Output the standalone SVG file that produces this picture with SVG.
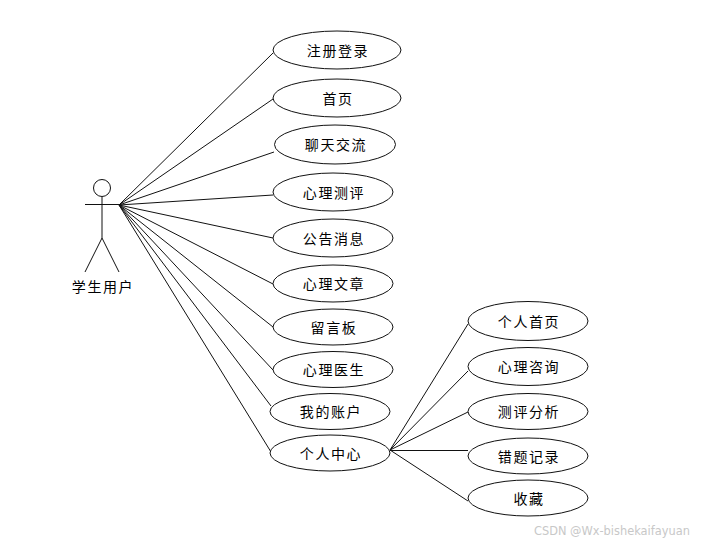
<svg xmlns="http://www.w3.org/2000/svg" width="704" height="543" viewBox="0 0 704 543">
<style>
.u{fill:#fff;stroke:#111;stroke-width:1}
.c line,.a line,.a circle{stroke:#111;stroke-width:1;fill:#fff}
text{font-family:"Noto Sans CJK SC","DejaVu Sans",sans-serif;font-size:14px;text-anchor:middle;fill:#000;letter-spacing:1.6px}
.w{font-family:"DejaVu Sans",sans-serif;font-size:11.400px;fill:#c8c8c8;letter-spacing:0;text-anchor:start}
</style>
<rect width="704" height="543" fill="#fff"/>
<g id="connectors" class="c">
<line x1="119" y1="205" x2="273" y2="53"/>
<line x1="119" y1="205" x2="273" y2="99"/>
<line x1="119" y1="205" x2="274" y2="152"/>
<line x1="119" y1="205" x2="273" y2="195"/>
<line x1="119" y1="205" x2="273" y2="238"/>
<line x1="119" y1="205" x2="273" y2="284"/>
<line x1="119" y1="205" x2="273" y2="327"/>
<line x1="119" y1="205" x2="273" y2="370"/>
<line x1="119" y1="205" x2="271" y2="406"/>
<line x1="119" y1="205" x2="271" y2="452"/>
<line x1="390" y1="450" x2="468" y2="324"/>
<line x1="390" y1="450" x2="468" y2="371"/>
<line x1="390" y1="450" x2="468" y2="412"/>
<line x1="390" y1="450.500" x2="468" y2="450.500"/>
<line x1="390" y1="450" x2="468" y2="501"/>
</g>
<g id="actor" class="a">
<circle cx="102" cy="188" r="8.500"/>
<line x1="102" y1="197" x2="102" y2="238"/>
<line x1="85" y1="204.500" x2="119" y2="204.500"/>
<line x1="102" y1="238" x2="85" y2="272"/>
<line x1="102" y1="238" x2="119" y2="272"/>
<text x="103" y="292">学生用户</text>
</g>
<g id="n1"><ellipse class="u" cx="337" cy="50" rx="64" ry="19"/><text x="338" y="55.500">注册登录</text></g>
<g id="n2"><ellipse class="u" cx="337" cy="98" rx="64" ry="19"/><text x="338" y="103.500">首页</text></g>
<g id="n3"><ellipse class="u" cx="335" cy="144.500" rx="60.500" ry="19.500"/><text x="336" y="149.500">聊天交流</text></g>
<g id="n4"><ellipse class="u" cx="333" cy="192" rx="60" ry="19"/><text x="334" y="197.500">心理测评</text></g>
<g id="n5"><ellipse class="u" cx="333" cy="238" rx="60" ry="19"/><text x="334" y="243.500">公告消息</text></g>
<g id="n6"><ellipse class="u" cx="333" cy="283.500" rx="60" ry="18.500"/><text x="334" y="288.500">心理文章</text></g>
<g id="n7"><ellipse class="u" cx="333" cy="327" rx="60" ry="18"/><text x="334" y="332.500">留言板</text></g>
<g id="n8"><ellipse class="u" cx="333" cy="369.500" rx="60" ry="18"/><text x="334" y="374.500">心理医生</text></g>
<g id="n9"><ellipse class="u" cx="330" cy="411.500" rx="60" ry="18"/><text x="331" y="416.500">我的账户</text></g>
<g id="n10"><ellipse class="u" cx="330" cy="453" rx="60" ry="18"/><text x="331" y="458.500">个人中心</text></g>
<g id="n11"><ellipse class="u" cx="528" cy="321" rx="60" ry="19.500"/><text x="529" y="326.500">个人首页</text></g>
<g id="n12"><ellipse class="u" cx="528" cy="366.500" rx="60" ry="19"/><text x="529" y="371.500">心理咨询</text></g>
<g id="n13"><ellipse class="u" cx="528" cy="411.500" rx="60" ry="18"/><text x="529" y="416.500">测评分析</text></g>
<g id="n14"><ellipse class="u" cx="528" cy="456" rx="60" ry="18"/><text x="529" y="461.500">错题记录</text></g>
<g id="n15"><ellipse class="u" cx="528" cy="498" rx="60" ry="18"/><text x="529" y="503.500">收藏</text></g>
<text class="w" x="534" y="534.500">CSDN @Wx-bishekaifayuan</text>
</svg>
